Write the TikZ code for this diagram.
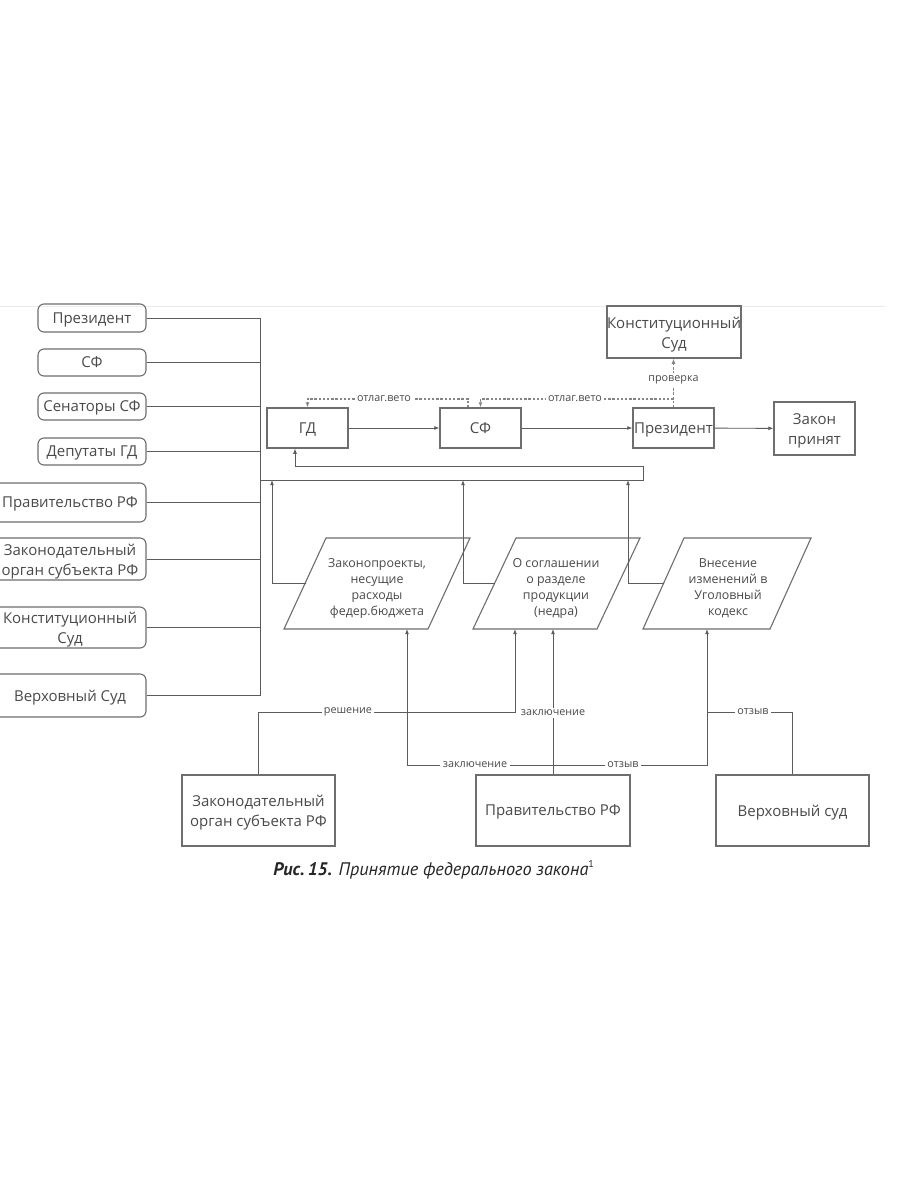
\documentclass[tikz,border=0pt]{standalone}
\usepackage{fontspec}
\setmainfont{Open Sans}
\newfontfamily\capfont{PT Sans}
\usetikzlibrary{arrows.meta,calc}
\definecolor{txt}{HTML}{4A4A4A}
\definecolor{ln}{HTML}{5C5C5C}
\definecolor{bd}{HTML}{6E6E6E}
\newcommand\fls{\rule{0pt}{1.1em}}
\begin{document}
\begin{tikzpicture}[x=0.5pt,y=-0.5pt,
  lbox/.style={draw=bd,rounded corners=3pt,line width=0.55pt,text=txt,font=\fontsize{7.5}{10}\selectfont,align=center,inner sep=0pt},
  box/.style={draw=bd,line width=0.55pt,text=txt,font=\fontsize{7.5}{10}\selectfont,align=center,inner sep=0pt},
  one/.style={text depth=0pt},
  conn/.style={draw=ln,line width=0.45pt},
  arr/.style={conn,-{Latex[length=2.6pt,width=2pt]}},
  dsh/.style={draw=ln!75,line width=0.6pt,dash pattern=on 1.2pt off 0.9pt,-{Latex[length=2.6pt,width=2pt]}},
  elab/.style={fill=white,text=txt,font=\fontsize{5.4}{6}\selectfont,inner sep=1.2pt},
  ptext/.style={text=txt,font=\fontsize{6.2}{8}\selectfont,align=center,inner sep=0pt},
  para/.style={draw=bd,line width=0.55pt}
]
\useasboundingbox (0,0) rectangle (900,1200);
\fill[white] (0,0) rectangle (900,1200);
\draw[black!8,line width=0.5pt] (0,306) -- (885,306);

% left column
\node[lbox,one,minimum width=54pt,minimum height=14pt] (lpres) at (92,318) {Президент};
\node[lbox,one,minimum width=54pt,minimum height=13.5pt] (lsf) at (92,362.5) {СФ};
\node[lbox,one,minimum width=54pt,minimum height=13.5pt] (lsen) at (92,406.5) {Сенаторы СФ};
\node[lbox,one,minimum width=54pt,minimum height=13.5pt] (ldep) at (92,451.5) {Депутаты ГД};
\node[lbox,one,minimum width=76pt,minimum height=19.5pt] (lgov) at (70,502.5) {Правительство РФ};
\node[lbox,minimum width=76pt,minimum height=21pt] (lzak) at (70,559) {\fls Законодательный\\орган субъекта РФ};
\node[lbox,minimum width=76pt,minimum height=20.5pt] (lks) at (70,627.5) {\fls Конституционный\\Суд};
\node[lbox,one,minimum width=76pt,minimum height=21.5pt] (lvs) at (70,695.5) {Верховный Суд};

\coordinate (bus) at (260,480);
\foreach \n in {lpres,lsf,lsen,ldep,lgov,lzak,lks,lvs}
  \draw[conn] (\n.east) -- (\n.east -| bus);
\draw[conn] (lpres.east -| bus) -- (lvs.east -| bus);

% top row
\node[box,one,minimum width=40.5pt,minimum height=20pt] (gd) at (307.5,428) {ГД};
\node[box,one,minimum width=40.5pt,minimum height=20pt] (sf) at (480.5,428) {СФ};
\node[box,one,minimum width=40.5pt,minimum height=20pt] (pres) at (673.5,428) {Президент};
\node[box,minimum width=40.5pt,minimum height=26.5pt] (zp) at (814.5,428.5) {\fls Закон\\принят};
\node[box,minimum width=67pt,minimum height=26pt] (ks) at (674,332) {\fls Конституционный\\Суд};

\draw[arr] (gd) -- (sf);
\draw[arr] (sf) -- (pres);
\draw[arr] (pres) -- (zp);

% vetoes and check
\coordinate (v1) at (468,399);
\coordinate (v2) at (673.5,399);
\draw[dsh] (v1 |- sf.north) -- (v1) -- (v1 -| gd.north) -- (gd.north);
\draw[dsh] (pres.north) -- (v2) -- (v2 -| sf.north) -- (sf.north);
\draw[dsh] (pres.north) -- (pres.north |- ks.south);
\node[elab] (veto1) at (384,399) {отлаг.вето};
\node[elab] (veto2) at (575,399) {отлаг.вето};
\node[elab] (check) at (673.5,380) {проверка};

% feedback bar
\coordinate (fb) at (295,466);
\draw[arr] (bus) -- (643,480) -- (643,466) -- (fb) -- (fb |- gd.south);

% parallelograms
\draw[para] (326,538) -- (470,538) -- (428,629) -- (284,629) -- cycle;
\draw[para] (516,538) -- (640,538) -- (597,629) -- (473,629) -- cycle;
\draw[para] (684,538) -- (811,538) -- (770,629) -- (643,629) -- cycle;
\node[ptext] (p1) at (377,588) {Законопроекты,\\несущие\\расходы\\федер.бюджета};
\node[ptext] (p2) at (556,588) {О соглашении\\о разделе\\продукции\\(недра)};
\node[ptext] (p3) at (728,588) {Внесение\\изменений в\\Уголовный\\кодекс};

\coordinate (p1w) at (306,583);
\coordinate (p2w) at (495,583);
\coordinate (p3w) at (664,583);
\draw[arr] (p1w) -| (272,480);
\draw[arr] (p2w) -| (463,480);
\draw[arr] (p3w) -| (628,480);

% bottom boxes
\node[box,minimum width=76.5pt,minimum height=35.5pt] (bzak) at (258.5,810.5) {\fls Законодательный\\орган субъекта РФ};
\node[box,one,minimum width=77pt,minimum height=35.5pt] (bgov) at (553,810.5) {Правительство РФ};
\node[box,one,minimum width=76.5pt,minimum height=35.5pt] (bvs) at (792.5,810.5) {Верховный суд};

\coordinate (p1b) at (407,629);
\coordinate (p2a) at (515,629);
\coordinate (p3b) at (707,629);
\coordinate (r1) at (258.5,712);
\coordinate (h1) at (553,765);

\draw[arr] (bzak.north) -- (r1) -- (r1 -| p2a) -- (p2a);
\draw[arr] (bgov.north) -- (bgov.north |- p2a);
\draw[arr] (h1) -- (h1 -| p1b) -- (p1b);
\draw[arr] (h1) -- (h1 -| p3b) -- (p3b);
\draw[conn] (bvs.north) -- (bvs.north |- r1) -- (p3b |- r1);

\node[elab] (l1) at (348,712) {решение};
\node[elab] (l2) at (553,713) {заключение};
\node[elab] (l3) at (475,765) {заключение};
\node[elab] (l4) at (623,765) {отзыв};
\node[elab] (l5) at (753,712) {отзыв};

% caption
\node[anchor=west,inner sep=0pt,text=black!85,font=\capfont\fontsize{9.1}{10}\selectfont] (cap) at (273,870)
  {\textbf{\textit{Рис.\,15.}} \textit{Принятие федерального закона}\raisebox{0.85ex}{\fontsize{5}{5}\selectfont 1}};
\end{tikzpicture}
\end{document}
